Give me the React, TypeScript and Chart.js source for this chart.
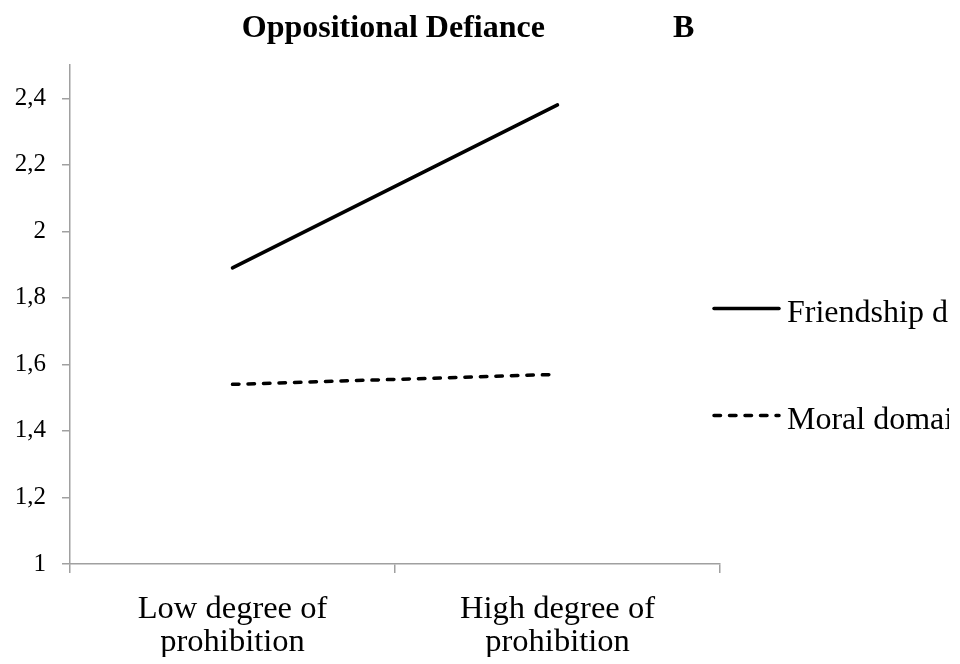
import React, { useEffect, useRef } from "react";
import { Chart, registerables } from "chart.js";

Chart.register(...registerables);

const CATEGORIES = [
  ["Low degree of", "prohibition"],
  ["High degree of", "prohibition"],
];
const SERIES_LABELS = ["Friendship domain", "Moral domain"];
const FRIENDSHIP = [1.89, 2.38];
const MORAL = [1.54, 1.57];
const Y_TICKS = [1, 1.2, 1.4, 1.6, 1.8, 2, 2.2, 2.4];
const Y_TICK_LABELS = ["1", "1,2", "1,4", "1,6", "1,8", "2", "2,2", "2,4"];
const TITLE = "Oppositional Defiance                B   ";

const SERIF = '"Liberation Serif", "Times New Roman", Times, serif';
const AXIS = "#a0a0a0";

const sideLegend = {
  id: "sideLegend",
  afterDraw(chart: any) {
    const { ctx, chartArea } = chart;
    const cy = (chartArea.top + chartArea.bottom) / 2;
    ctx.save();
    ctx.beginPath();
    ctx.rect(0, 0, chart.width - 11, chart.height);
    ctx.clip();
    chart.data.datasets.forEach((ds: any, i: number) => {
      const y = cy - 6 + i * 107;
      const x0 = chartArea.right - 8;
      ctx.save();
      ctx.strokeStyle = ds.borderColor;
      ctx.lineWidth = ds.borderWidth;
      ctx.lineCap = ds.borderCapStyle || "butt";
      ctx.setLineDash(ds.borderDash || []);
      ctx.beginPath();
      ctx.moveTo(x0 + 2, y);
      ctx.lineTo(x0 + 67, y);
      ctx.stroke();
      ctx.setLineDash([]);
      ctx.fillStyle = "#000";
      ctx.font = `32px ${SERIF}`;
      ctx.textBaseline = "alphabetic";
      ctx.textAlign = "left";
      ctx.fillText(ds.label, x0 + 75, y + 13.5);
      ctx.restore();
    });
    ctx.restore();
  },
};

export default function App() {
  const ref = useRef<HTMLCanvasElement | null>(null);

  useEffect(() => {
    if (!ref.current) return;
    const chart = new Chart(ref.current, {
      type: "line",
      data: {
        labels: CATEGORIES,
        datasets: [
          {
            label: SERIES_LABELS[0],
            data: FRIENDSHIP,
            borderColor: "#000",
            backgroundColor: "#000",
            borderWidth: 3.5,
            borderCapStyle: "round",
            pointRadius: 0,
            fill: false,
          },
          {
            label: SERIES_LABELS[1],
            data: MORAL,
            borderColor: "#000",
            backgroundColor: "#000",
            borderWidth: 3.5,
            borderCapStyle: "round",
            borderDash: [6.5, 9],
            pointRadius: 0,
            fill: false,
          },
        ],
      },
      options: {
        animation: false,
        responsive: false,
        events: [],
        layout: { padding: { left: 0, right: 0, top: 0, bottom: 7 } },
        plugins: {
          legend: { display: false },
          tooltip: { enabled: false },
          title: {
            display: true,
            text: TITLE,
            color: "#000",
            font: { family: SERIF, size: 32, weight: "bold", lineHeight: 1.2 },
            padding: { top: 10, bottom: 16.6 },
          },
        },
        scales: {
          x: {
            type: "category",
            offset: true,
            afterFit: (s: any) => {
              s.height = 93;
            },
            grid: {
              display: true,
              offset: true,
              drawOnChartArea: false,
              drawTicks: true,
              tickLength: 9,
              color: AXIS,
              lineWidth: 1.5,
            },
            border: { display: true, color: AXIS, width: 1.5 },
            ticks: {
              color: "#000",
              font: { family: SERIF, size: 32.5, lineHeight: 1.02 },
              padding: 20,
              maxRotation: 0,
              autoSkip: false,
            },
          },
          y: {
            type: "linear",
            min: 1,
            max: 2.5,
            afterFit: (s: any) => {
              s.width = 70;
            },
            afterBuildTicks: (s: any) => {
              s.ticks = Y_TICKS.map((v) => ({ value: v }));
            },
            ticks: {
              color: "#000",
              font: { family: SERIF, size: 25 },
              padding: 16,
              callback: (_v: any, i: number) => Y_TICK_LABELS[i],
            },
            grid: {
              display: true,
              drawOnChartArea: false,
              drawTicks: true,
              tickLength: 8,
              color: AXIS,
              lineWidth: 1.5,
            },
            border: { display: true, color: AXIS, width: 1.5 },
          },
          legendSpace: {
            type: "linear",
            position: "right",
            display: true,
            grid: { display: false },
            ticks: { display: false },
            border: { display: false },
            afterFit: (s: any) => {
              s.width = 240;
            },
          },
        },
      },
      plugins: [sideLegend],
    } as any);
    return () => chart.destroy();
  }, []);

  return (
    <div
      style={{
        position: "fixed",
        left: 0,
        top: 0,
        width: 960,
        height: 664,
        background: "#fff",
        overflow: "hidden",
      }}
    >
      <canvas ref={ref} width={960} height={664} style={{ display: "block" }} />
    </div>
  );
}
